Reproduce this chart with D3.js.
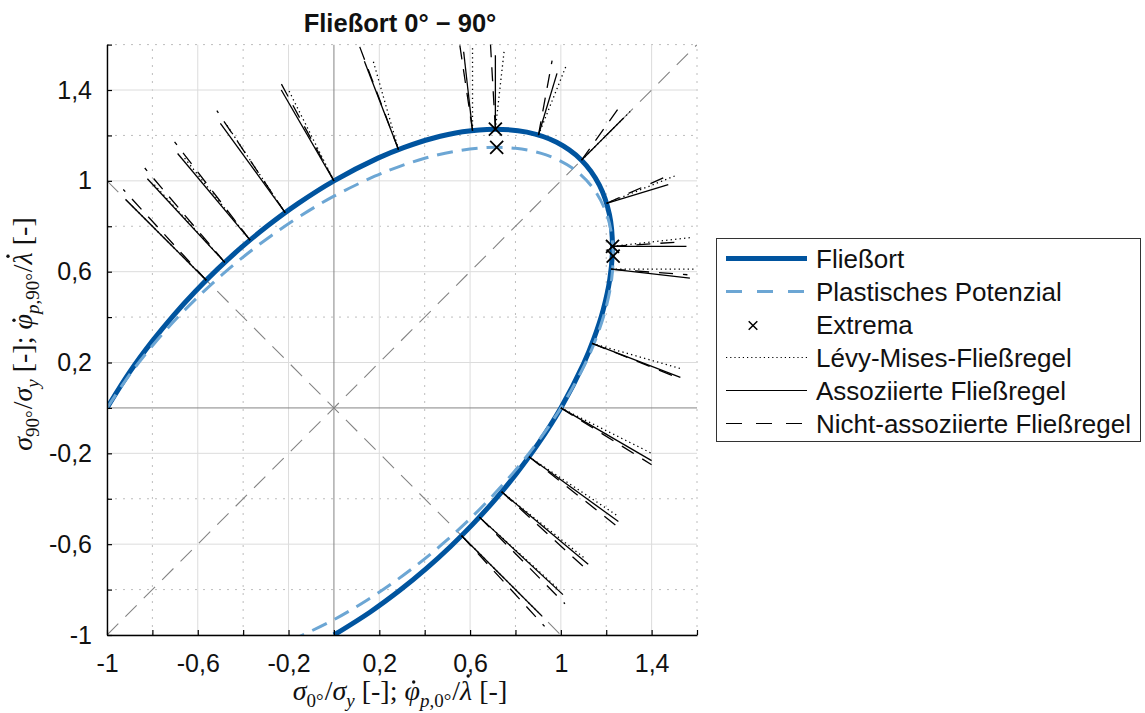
<!DOCTYPE html>
<html>
<head>
<meta charset="utf-8">
<script src="https://cdn.jsdelivr.net/npm/d3@7"></script>
<style>
  body { margin: 0; background: #fff; }
  svg { display: block; }
</style>
</head>
<body>
<svg id="chart" width="1145" height="713"></svg>
<script>
// Yield locus (normalised stresses), from the 180° point round to the -90° point
const yieldLocus = [
  [-1, 0], [-0.8996, 0.1586], [-0.8020, 0.2919], [-0.7066, 0.4079], [-0.6111, 0.5128],
  [-0.5128, 0.6111], [-0.4079, 0.7066], [-0.2919, 0.8020], [-0.1586, 0.8996], [0, 1],
  [0.1939, 1.1000], [0.3071, 1.1463], [0.4318, 1.1866], [0.5669, 1.2158], [0.7087, 1.2275],
  [0.8503, 1.2144], [0.9816, 1.1698], [1.0911, 1.0911], [1.1698, 0.9816], [1.2144, 0.8503],
  [1.2275, 0.7087], [1.2158, 0.5669], [1.1866, 0.4318], [1.1463, 0.3071], [1.1000, 0.1939],
  [1, 0], [0.8996, -0.1586], [0.8020, -0.2919], [0.7066, -0.4079], [0.6111, -0.5128],
  [0.5128, -0.6111], [0.4079, -0.7066], [0.2919, -0.8020], [0.1586, -0.8996], [0, -1]
];

// Plastic potential
const plasticPotential = [
  [-1, 0], [-0.8922, 0.1573], [-0.7888, 0.2871], [-0.6893, 0.3979], [-0.5914, 0.4963],
  [-0.4925, 0.5869], [-0.3888, 0.6734], [-0.2761, 0.7586], [-0.1489, 0.8447], [0, 0.9325],
  [0.1799, 1.0203], [0.2845, 1.0618], [0.4001, 1.0994], [0.5264, 1.1290], [0.6616, 1.1458],
  [0.8005, 1.1433], [0.9351, 1.1144], [1.0541, 1.0541], [1.1463, 0.9620], [1.2051, 0.8438],
  [1.2294, 0.7098], [1.2243, 0.5709], [1.1975, 0.4358], [1.1566, 0.3099], [1.1075, 0.1953],
  [1, 0], [0.8922, -0.1573], [0.7888, -0.2871], [0.6893, -0.3979], [0.5914, -0.4963],
  [0.4925, -0.5869], [0.3888, -0.6734], [0.2761, -0.7586], [0.1489, -0.8447], [0, -0.9325],
  [-0.1799, -1.0203]
];

// Extreme points of both curves
const extrema = [[0.7115, 1.2276], [0.7172, 1.1475], [1.2276, 0.7115], [1.2306, 0.6688]];

// Stress states on the yield locus where the flow directions are drawn
const flowPoints = [
  [-0.5626, 0.5626], [-0.4809, 0.6412], [-0.3696, 0.7392], [-0.2149, 0.8598], [0, 1],
  [0.2844, 1.1377], [0.6108, 1.2217], [0.7115, 1.2276], [0.9013, 1.2017], [1.0911, 1.0911],
  [1.2017, 0.9013], [1.2276, 0.7115], [1.2217, 0.6108], [1.1377, 0.2844], [1, 0],
  [0.8598, -0.2149], [0.7392, -0.3696], [0.6412, -0.4809], [0.5626, -0.5626]
];

// Plastic strain-rate vectors at those points
const levyMises = [
  [-0.3375, 0.3375], [-0.3206, 0.3527], [-0.2956, 0.3696], [-0.2580, 0.3869], [-0.2000, 0.4000],
  [-0.1137, 0.3982], [0.0000, 0.3665], [0.0391, 0.3487], [0.1202, 0.3004], [0.2182, 0.2182],
  [0.3004, 0.1202], [0.3487, 0.0391], [0.3665, 0.0000], [0.3982, -0.1137], [0.4000, -0.2000],
  [0.3869, -0.2580], [0.3696, -0.2956], [0.3527, -0.3206], [0.3375, -0.3375]
];
const associated = [
  [-0.3555, 0.3555], [-0.3412, 0.3681], [-0.3193, 0.3814], [-0.2855, 0.3938], [-0.2320, 0.4000],
  [-0.1501, 0.3891], [-0.0391, 0.3470], [0.0000, 0.3259], [0.0817, 0.2716], [0.1833, 0.1833],
  [0.2716, 0.0817], [0.3259, 0.0000], [0.3470, -0.0391], [0.3891, -0.1501], [0.4000, -0.2320],
  [0.3938, -0.2855], [0.3814, -0.3193], [0.3681, -0.3412], [0.3555, -0.3555]
];
const nonAssociated = [
  [-0.3657, 0.3995], [-0.3527, 0.4152], [-0.3326, 0.4324], [-0.3010, 0.4492], [-0.2500, 0.4600],
  [-0.1706, 0.4522], [-0.0611, 0.4093], [-0.0223, 0.3868], [0.0601, 0.3275], [0.1636, 0.2291],
  [0.2554, 0.1142], [0.3131, 0.0204], [0.3360, -0.0244], [0.3840, -0.1536], [0.4000, -0.2500],
  [0.3976, -0.3139], [0.3881, -0.3548], [0.3767, -0.3815], [0.3657, -0.3995]
];

// Guide lines: the two diagonals through the origin
const diagonals = [
  [[-1, -1], [1.6, 1.6]],
  [[-1, 1], [1, -1]]
];

const majorTicks = [-1, -0.6, -0.2, 0.2, 0.6, 1, 1.4];
const minorTicks = [-0.8, -0.4, 0, 0.4, 0.8, 1.2, 1.6];
const axisDomain = [-1, 1.6];

const titleText = "Fließort 0° − 90°";
const legendLabels = [
  "Fließort", "Plastisches Potenzial", "Extrema",
  "Lévy-Mises-Fließregel", "Assoziierte Fließregel", "Nicht-assoziierte Fließregel"
];

// ---------------------------------------------------------------------------
const svg = d3.select("#chart");
const x = d3.scaleLinear().domain(axisDomain).range([107, 697]);
const y = d3.scaleLinear().domain(axisDomain).range([635, 44.6]);

const C = {
  yield: "#00549f",
  potential: "#6ca6d4",
  gridMajor: "#dcdcdc",
  gridMinor: "#bdbdbd",
  zero: "#848484",
  text: "#111"
};
const sansFont = "'Liberation Sans', Arial, sans-serif";
const serifFont = "'Liberation Serif', 'DejaVu Serif', serif";

svg.append("defs").append("clipPath").attr("id", "plotClip")
  .append("rect")
  .attr("x", x(axisDomain[0])).attr("y", y(axisDomain[1]))
  .attr("width", x(axisDomain[1]) - x(axisDomain[0]))
  .attr("height", y(axisDomain[0]) - y(axisDomain[1]));

// Grid
const grid = svg.append("g");
const gridLines = (vals, color, dash) => {
  vals.forEach(v => {
    grid.append("line")
      .attr("x1", x(v)).attr("x2", x(v)).attr("y1", y(axisDomain[0])).attr("y2", y(axisDomain[1]))
      .attr("stroke", color).attr("stroke-width", 1).attr("stroke-dasharray", dash);
    grid.append("line")
      .attr("y1", y(v)).attr("y2", y(v)).attr("x1", x(axisDomain[0])).attr("x2", x(axisDomain[1]))
      .attr("stroke", color).attr("stroke-width", 1).attr("stroke-dasharray", dash);
  });
};
gridLines(minorTicks.filter(v => v !== 0), C.gridMinor, "2,6");
gridLines(majorTicks, C.gridMajor, null);

const plot = svg.append("g").attr("clip-path", "url(#plotClip)");

// Zero lines
plot.append("line").attr("x1", x(0)).attr("x2", x(0))
  .attr("y1", y(axisDomain[0])).attr("y2", y(axisDomain[1]))
  .attr("stroke", C.zero).attr("stroke-width", 1);
plot.append("line").attr("y1", y(0)).attr("y2", y(0))
  .attr("x1", x(axisDomain[0])).attr("x2", x(axisDomain[1]))
  .attr("stroke", C.zero).attr("stroke-width", 1);

// Diagonals
plot.selectAll(".diag").data(diagonals).join("line")
  .attr("x1", d => x(d[0][0])).attr("y1", d => y(d[0][1]))
  .attr("x2", d => x(d[1][0])).attr("y2", d => y(d[1][1]))
  .attr("stroke", C.zero).attr("stroke-width", 1.1).attr("stroke-dasharray", "16,10");

const curve = d3.line().x(d => x(d[0])).y(d => y(d[1])).curve(d3.curveCatmullRom.alpha(0.5));

// Yield locus and plastic potential
plot.append("path").datum(yieldLocus).attr("d", curve)
  .attr("fill", "none").attr("stroke", C.yield).attr("stroke-width", 5);
plot.append("path").datum(plasticPotential).attr("d", curve)
  .attr("fill", "none").attr("stroke", C.potential).attr("stroke-width", 3)
  .attr("stroke-dasharray", "16,9");

// Flow directions
const flowSets = [
  { vec: levyMises, dash: "1.3,3.2", width: 1.3 },
  { vec: associated, dash: null, width: 1.3 },
  { vec: nonAssociated, dash: "14,10", width: 1.3 }
];
flowSets.forEach(set => {
  plot.append("g").selectAll("line").data(flowPoints).join("line")
    .attr("x1", d => x(d[0])).attr("y1", d => y(d[1]))
    .attr("x2", (d, i) => x(d[0] + set.vec[i][0]))
    .attr("y2", (d, i) => y(d[1] + set.vec[i][1]))
    .attr("stroke", "#000").attr("stroke-width", set.width)
    .attr("stroke-dasharray", set.dash);
});

// Extrema markers
const cross = s => `M${-s},${-s}L${s},${s}M${-s},${s}L${s},${-s}`;
svg.append("g").selectAll("path").data(extrema).join("path")
  .attr("transform", d => `translate(${x(d[0])},${y(d[1])})`)
  .attr("d", cross(6.5)).attr("stroke", "#000").attr("stroke-width", 1.8).attr("fill", "none");

// Axes
const allTicks = majorTicks.concat(minorTicks).sort((a, b) => a - b);
const fmt = d => majorTicks.includes(d) ? String(d).replace(".", ",") : "";
const xAxis = svg.append("g").attr("transform", `translate(0,${y(axisDomain[0])})`)
  .call(d3.axisBottom(x).tickValues(allTicks).tickSize(-5).tickSizeOuter(0).tickPadding(19).tickFormat(fmt));
const yAxis = svg.append("g").attr("transform", `translate(${x(axisDomain[0])},0)`)
  .call(d3.axisLeft(y).tickValues(allTicks).tickSize(-5).tickSizeOuter(0).tickPadding(15).tickFormat(fmt));
[xAxis, yAxis].forEach(a => {
  a.select(".domain").attr("stroke", "#000").attr("stroke-width", 1.4);
  a.selectAll(".tick line").attr("stroke", "#000").attr("stroke-width", 1.2);
  a.selectAll(".tick text").attr("font-family", sansFont).attr("font-size", 25).attr("fill", C.text);
});

// Title
svg.append("text").attr("x", 400).attr("y", 32).attr("text-anchor", "middle")
  .attr("font-family", sansFont).attr("font-size", 25.5).attr("font-weight", "bold")
  .attr("fill", C.text).text(titleText);

// Axis labels in math style: italic symbols, lowered subscripts, time-derivative dots
const MAIN = 28, SUB = 19;
function mathText(g, parts) {
  const t = g.append("text").attr("font-family", serifFont).attr("font-size", MAIN)
    .attr("fill", C.text).attr("text-anchor", "middle");
  let shifted = 0;
  const dotted = [];
  parts.forEach(p => {
    const sp = t.append("tspan").text(p.t);
    if (p.it) sp.attr("font-style", "italic");
    const want = p.sub ? 7 : 0;
    if (want !== shifted) { sp.attr("dy", want - shifted); shifted = want; }
    if (p.dx) sp.attr("dx", p.dx);
    if (p.sub) sp.attr("font-size", SUB);
    if (p.dot) dotted.push([sp, p.dot]);
  });
  // place each dot above its symbol once the whole line is laid out
  dotted.forEach(([sp, d]) => {
    const bb = sp.node().getBBox();
    g.append("circle").attr("cx", bb.x + bb.width / 2 + d[0]).attr("cy", -d[1])
      .attr("r", 1.7).attr("fill", C.text);
  });
  return t;
}
const labelParts = ang => [
  { t: "σ", it: true }, { t: ang, sub: true }, { t: "/", dx: 1 }, { t: "σ", it: true },
  { t: "y", it: true, sub: true },
  { t: " [-]; " }, { t: "φ", it: true, dot: [1.5, 18] },
  { t: "p", it: true, sub: true }, { t: "," + ang, sub: true },
  { t: "/", dx: 1 }, { t: "λ", it: true, dot: [2.5, 24] }, { t: " [-]" }
];
mathText(svg.append("g").attr("transform", "translate(400,700)"), labelParts("0°"));
mathText(svg.append("g").attr("transform", "translate(32,334) rotate(-90)"), labelParts("90°"));

// Legend
const lg = svg.append("g");
lg.append("rect").attr("x", 716.5).attr("y", 238.5).attr("width", 424).attr("height", 203)
  .attr("fill", "#fff").attr("stroke", "#333").attr("stroke-width", 1);
const rowY = i => 258.5 + i * 33;
const sx0 = 726, sx1 = 807;
const legendStyle = [
  { stroke: C.yield, width: 5, dash: null },
  { stroke: C.potential, width: 3, dash: "16,15" },
  { marker: true },
  { stroke: "#000", width: 1.2, dash: "1.2,3" },
  { stroke: "#000", width: 1.2, dash: null },
  { stroke: "#000", width: 1.2, dash: "16,14" }
];
legendLabels.forEach((lab, i) => {
  const st = legendStyle[i];
  if (st.marker) {
    lg.append("path").attr("transform", `translate(753,${rowY(i) + 1})`).attr("d", cross(4.3))
      .attr("stroke", "#000").attr("stroke-width", 1.5).attr("fill", "none");
  } else {
    lg.append("line").attr("x1", sx0).attr("x2", sx1).attr("y1", rowY(i)).attr("y2", rowY(i))
      .attr("stroke", st.stroke).attr("stroke-width", st.width).attr("stroke-dasharray", st.dash);
  }
  lg.append("text").attr("x", 816).attr("y", rowY(i)).attr("dy", "0.35em")
    .attr("font-family", sansFont).attr("font-size", 26).attr("fill", C.text).text(lab);
});
</script>
</body>
</html>
